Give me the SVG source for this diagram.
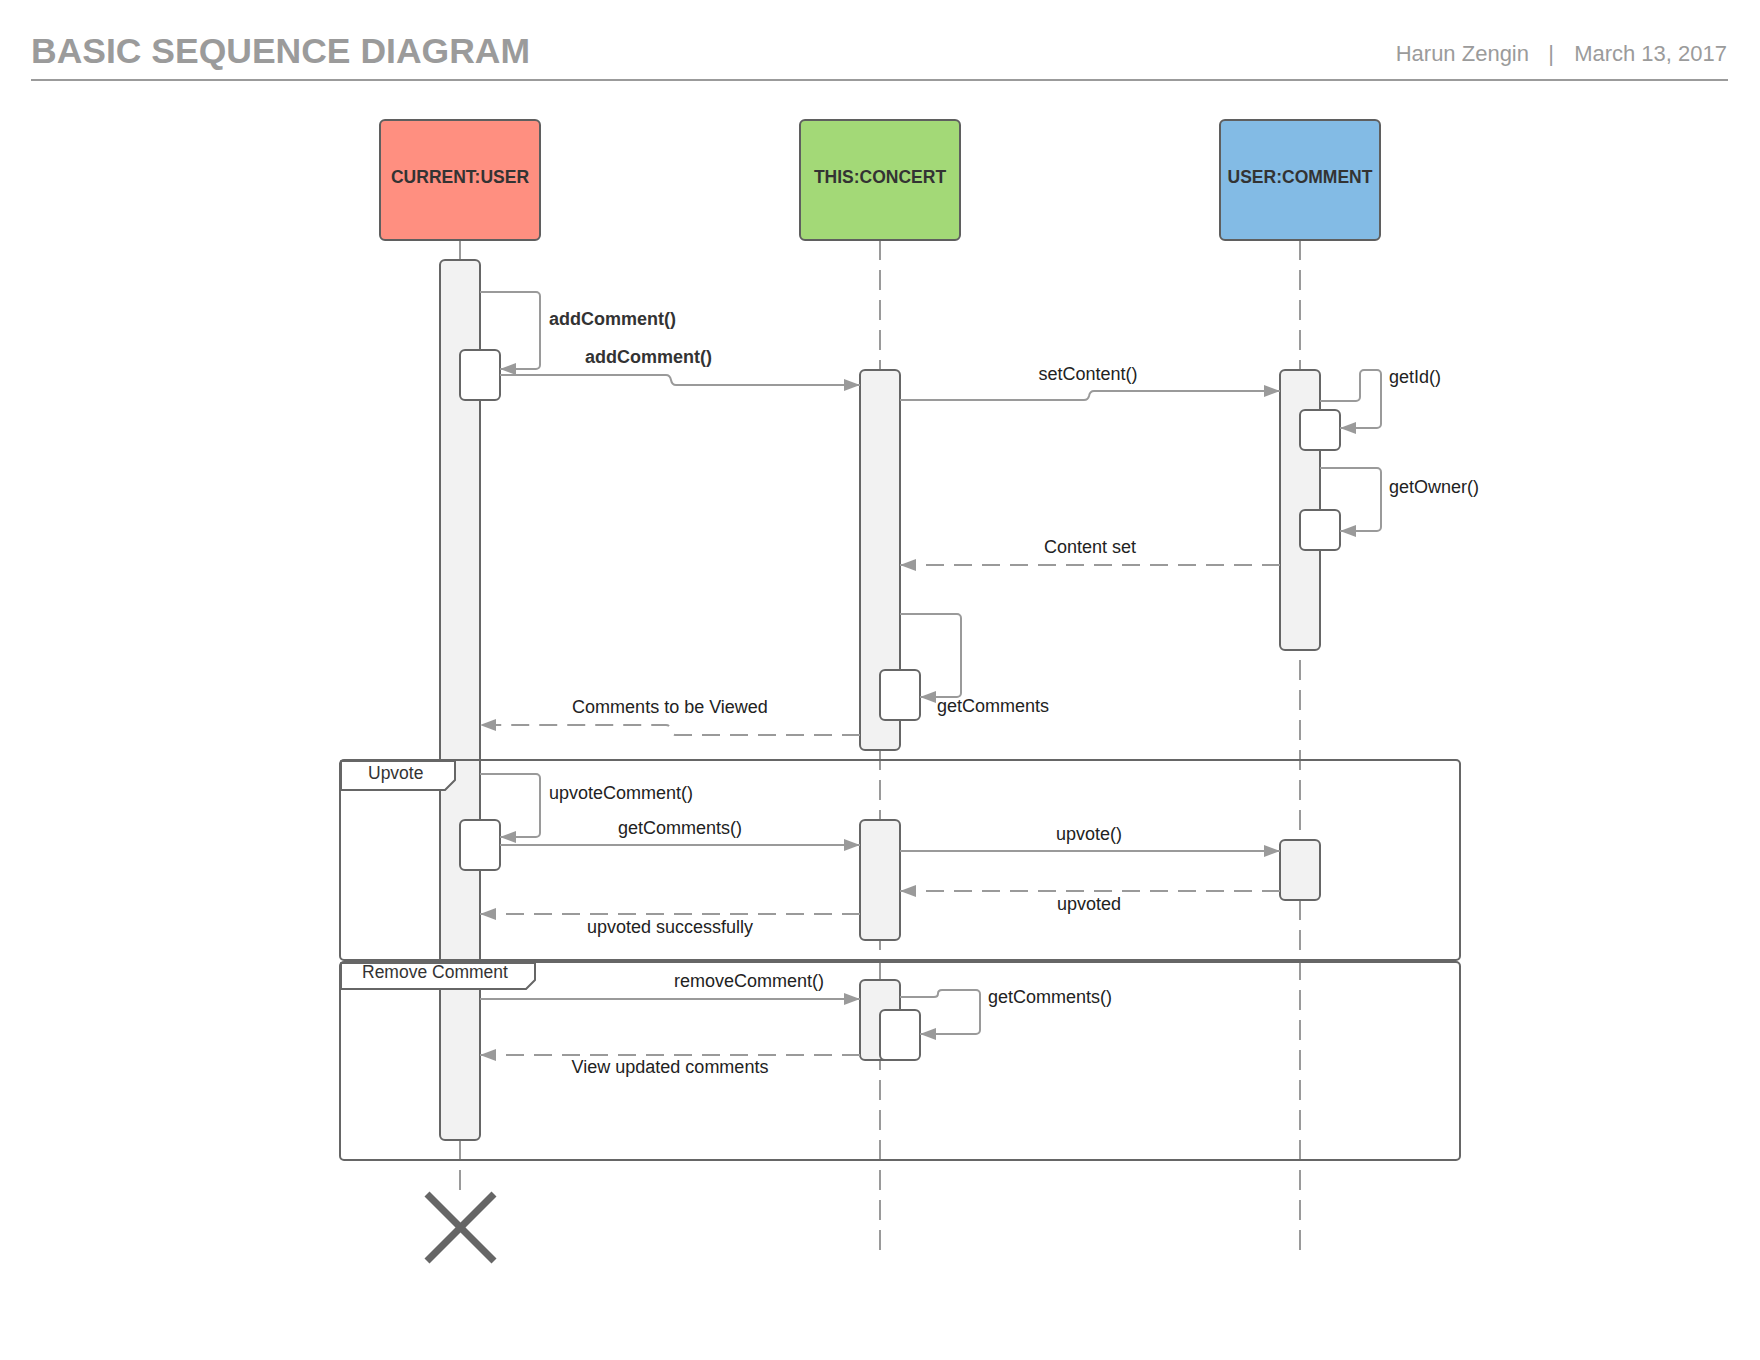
<svg xmlns="http://www.w3.org/2000/svg" width="1760" height="1360" viewBox="0 0 1760 1360">
  <style>
    .title { font: bold 35.5px "Liberation Sans", Arial, sans-serif; fill: #9b9b9b; }
    .meta { font: 22px "Liberation Sans", Arial, sans-serif; fill: #9b9b9b; }
    .head { stroke-width: 2; stroke: #5f5f5f; }
    .headlabel { font: bold 17.5px "Liberation Sans", Arial, sans-serif; fill: #333; text-anchor: middle; }
    .lifeline { stroke: #9a9a9a; stroke-width: 2; stroke-dasharray: 20 10; fill: none; }
    .bar { fill: #f2f2f2; stroke: #666; stroke-width: 2; }
    .sub { fill: #fff; stroke: #666; stroke-width: 2; }
    .frame { fill: none; stroke: #666; stroke-width: 2; }
    .tab { fill: #fff; stroke: #666; stroke-width: 2; stroke-linejoin: round; }
    .msg { fill: none; stroke: #9a9a9a; stroke-width: 2; marker-end: url(#arrow); }
    .ret { stroke-dasharray: 18 10; }
    .lbl { font: 18px "Liberation Sans", Arial, sans-serif; fill: #222; }
    .lblb { font: bold 18px "Liberation Sans", Arial, sans-serif; fill: #333; }
    .mid { text-anchor: middle; }
    .ftxt { font: 17.5px "Liberation Sans", Arial, sans-serif; fill: #333; }
  </style>
  <defs>
    <marker id="arrow" markerUnits="userSpaceOnUse" markerWidth="16" markerHeight="12" refX="16" refY="6" orient="auto">
      <path d="M0,0 L16,6 L0,12 Z" fill="#9a9a9a"/>
    </marker>
  </defs>

  <rect width="1760" height="1360" fill="#fff"/>

  <!-- header -->
  <g id="header">
    <text class="title" x="31" y="63">BASIC SEQUENCE DIAGRAM</text>
    <text class="meta" x="1529" y="61" text-anchor="end">Harun Zengin</text>
    <text class="meta" x="1551" y="61" text-anchor="middle">|</text>
    <text class="meta" x="1727" y="61" text-anchor="end">March 13, 2017</text>
    <line x1="31" y1="80" x2="1728" y2="80" stroke="#9b9b9b" stroke-width="2"/>
  </g>

  <!-- participants with their lifelines -->
  <g id="node-current-user">
    <path class="lifeline" d="M460,240 V1190"/>
    <rect class="head" x="380" y="120" width="160" height="120" rx="5" fill="#ff8f80"/>
    <text class="headlabel" x="460" y="183">CURRENT:USER</text>
  </g>
  <g id="node-this-concert">
    <path class="lifeline" d="M880,240 V1260"/>
    <rect class="head" x="800" y="120" width="160" height="120" rx="5" fill="#a3d977"/>
    <text class="headlabel" x="880" y="183">THIS:CONCERT</text>
  </g>
  <g id="node-user-comment">
    <path class="lifeline" d="M1300,240 V1260"/>
    <rect class="head" x="1220" y="120" width="160" height="120" rx="5" fill="#83bbe5"/>
    <text class="headlabel" x="1300" y="183">USER:COMMENT</text>
  </g>

  <!-- activation bars -->
  <g id="activations">
    <rect class="bar" x="440" y="260" width="40" height="880" rx="5"/>
    <rect class="sub" x="460" y="350" width="40" height="50" rx="5"/>
    <rect class="sub" x="460" y="820" width="40" height="50" rx="5"/>
    <rect class="bar" x="860" y="370" width="40" height="380" rx="5"/>
    <rect class="sub" x="880" y="670" width="40" height="50" rx="5"/>
    <rect class="bar" x="860" y="820" width="40" height="120" rx="5"/>
    <rect class="bar" x="860" y="980" width="40" height="80" rx="5"/>
    <rect class="sub" x="880" y="1010" width="40" height="50" rx="5"/>
    <rect class="bar" x="1280" y="370" width="40" height="280" rx="5"/>
    <rect class="sub" x="1300" y="410" width="40" height="40" rx="5"/>
    <rect class="sub" x="1300" y="510" width="40" height="40" rx="5"/>
    <rect class="bar" x="1280" y="840" width="40" height="60" rx="5"/>
  </g>

  <!-- combined fragments -->
  <g id="frame-upvote">
    <rect class="frame" x="340" y="760" width="1120" height="200" rx="4"/>
    <path class="tab" d="M341,761 V790 H445 L455,780 V761 Z"/>
    <text class="ftxt" x="368" y="779">Upvote</text>
  </g>
  <g id="frame-remove-comment">
    <rect class="frame" x="340" y="962" width="1120" height="198" rx="4"/>
    <path class="tab" d="M341,963 V989 H526 L535,980 V963 Z"/>
    <text class="ftxt" x="362" y="978">Remove Comment</text>
  </g>

  <!-- destruction mark -->
  <g id="destroy" stroke="#666" stroke-width="7">
    <line x1="427" y1="1194" x2="494" y2="1261"/>
    <line x1="494" y1="1194" x2="427" y2="1261"/>
  </g>

  <!-- messages -->
  <g id="connectors">
    <path class="msg" d="M480,292 H536 A4,4 0 0 1 540,296 V365 A4,4 0 0 1 536,369 H500"/>
    <path class="msg" d="M500,375 H666 Q670,375 671,380 Q672,385 676,385 H860"/>
    <path class="msg" d="M900,400 H1084 Q1088,400 1089,396 Q1090,391 1094,391 H1280"/>
    <path class="msg" d="M1320,401 H1356 A4,4 0 0 0 1360,397 V374 A4,4 0 0 1 1364,370 H1377 A4,4 0 0 1 1381,374 V424 A4,4 0 0 1 1377,428 H1340"/>
    <path class="msg" d="M1320,468 H1377 A4,4 0 0 1 1381,472 V527 A4,4 0 0 1 1377,531 H1340"/>
    <path class="msg ret" d="M1280,565 H900"/>
    <path class="msg" d="M900,614 H957 A4,4 0 0 1 961,618 V693 A4,4 0 0 1 957,697 H920"/>
    <path class="msg ret" d="M860,735 H676 Q672,735 671,730 Q670,725 666,725 H480"/>
    <path class="msg" d="M480,774 H536 A4,4 0 0 1 540,778 V833 A4,4 0 0 1 536,837 H500"/>
    <path class="msg" d="M500,845 H860"/>
    <path class="msg" d="M900,851 H1280"/>
    <path class="msg ret" d="M1280,891 H900"/>
    <path class="msg ret" d="M860,914 H480"/>
    <path class="msg" d="M480,999 H860"/>
    <path class="msg" d="M900,997 H934 Q938,997 938,993.5 Q938,990 942,990 H976 A4,4 0 0 1 980,994 V1030 A4,4 0 0 1 976,1034 H920"/>
    <path class="msg ret" d="M860,1055 H480"/>
  </g>

  <!-- message labels -->
  <g id="labels">
    <text class="lblb" x="549" y="325">addComment()</text>
    <text class="lblb" x="585" y="363">addComment()</text>
    <text class="lbl mid" x="1088" y="380">setContent()</text>
    <text class="lbl" x="1389" y="383">getId()</text>
    <text class="lbl" x="1389" y="493">getOwner()</text>
    <text class="lbl mid" x="1090" y="553">Content set</text>
    <text class="lbl" x="937" y="712">getComments</text>
    <text class="lbl mid" x="670" y="713">Comments to be Viewed</text>
    <text class="lbl" x="549" y="799">upvoteComment()</text>
    <text class="lbl mid" x="680" y="834">getComments()</text>
    <text class="lbl mid" x="1089" y="840">upvote()</text>
    <text class="lbl mid" x="1089" y="910">upvoted</text>
    <text class="lbl mid" x="670" y="933">upvoted successfully</text>
    <text class="lbl mid" x="749" y="987">removeComment()</text>
    <text class="lbl" x="988" y="1003">getComments()</text>
    <text class="lbl mid" x="670" y="1073">View updated comments</text>
  </g>
</svg>
